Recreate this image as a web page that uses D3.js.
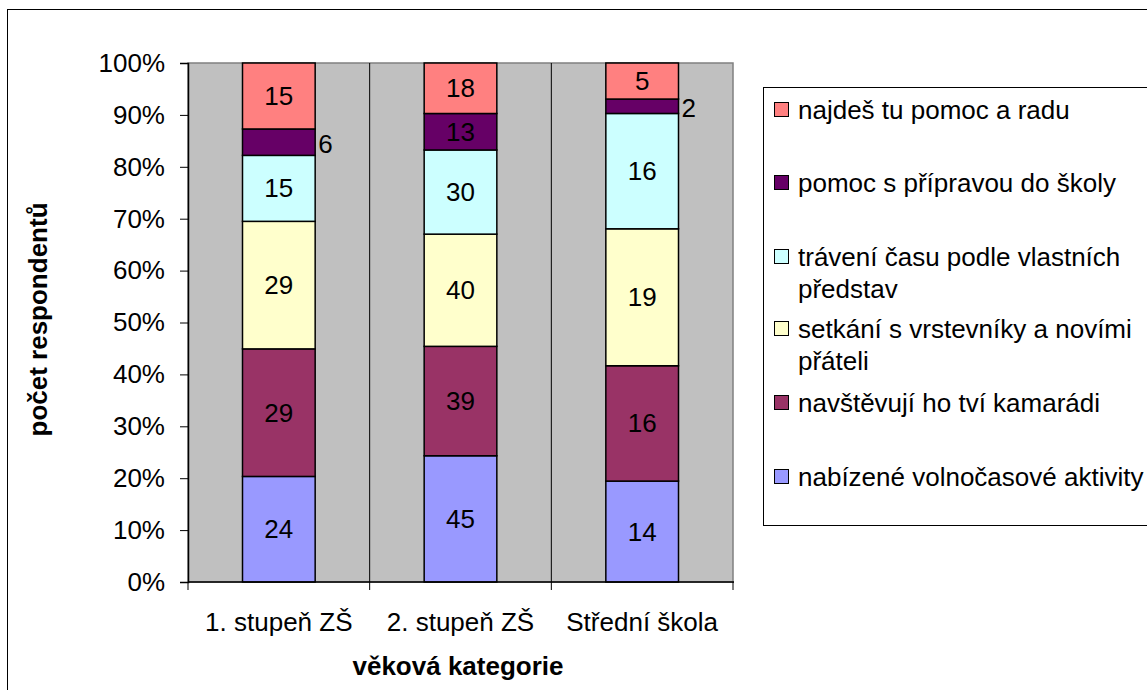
<!DOCTYPE html>
<html>
<head>
<meta charset="utf-8">
<script src="https://cdn.jsdelivr.net/npm/d3@7"></script>
<style>
  body { margin: 0; background: #fff; }
  svg { display: block; font-family: "Liberation Sans", Arial, sans-serif; }
</style>
</head>
<body>
<svg id="chart" width="1147" height="690"></svg>
<script>
// ── data ──
const categories = ['1. stupeň ZŠ', '2. stupeň ZŠ', 'Střední škola'];
const seriesNames = [
  'nabízené volnočasové aktivity',
  'navštěvují ho tví kamarádi',
  'setkání s vrstevníky a novími přáteli',
  'trávení času podle vlastních představ',
  'pomoc s přípravou do školy',
  'najdeš tu pomoc a radu'
];
const legendLines = [
  ['nabízené volnočasové aktivity'],
  ['navštěvují ho tví kamarádi'],
  ['setkání s vrstevníky a novími', 'přáteli'],
  ['trávení času podle vlastních', 'představ'],
  ['pomoc s přípravou do školy'],
  ['najdeš tu pomoc a radu']
];
const seriesValues = [
  [24, 45, 14],
  [29, 39, 16],
  [29, 40, 19],
  [15, 30, 16],
  [6, 13, 2],
  [15, 18, 5]
];
const colors = ['#9999FF', '#993366', '#FFFFCC', '#CCFFFF', '#660066', '#FF8080'];
const yTicks = [0, 0.1, 0.2, 0.3, 0.4, 0.5, 0.6, 0.7, 0.8, 0.9, 1];

const FONT = '"Liberation Sans", Arial, sans-serif';
const FS = 26;

// ── layout ──
const svg = d3.select('#chart');
const plot = { left: 188, right: 733, top: 63, bottom: 582 };

// chart border (runs off the right and bottom edges)
svg.append('rect').attr('x', 7.5).attr('y', 9.5).attr('width', 1160).attr('height', 700)
  .attr('fill', '#fff').attr('stroke', '#000').attr('stroke-width', 1);

const x = d3.scaleBand().domain(categories).range([plot.left, plot.right]);
const y = d3.scaleLinear().domain([0, 1]).range([plot.bottom, plot.top]);
const barW = x.bandwidth() * 0.4;

// plot background
svg.append('rect')
  .attr('x', plot.left).attr('y', plot.top)
  .attr('width', plot.right - plot.left).attr('height', plot.bottom - plot.top)
  .attr('fill', '#C0C0C0').attr('stroke', '#808080').attr('stroke-width', 1.5);

// category gridlines
categories.slice(1).forEach(c => {
  svg.append('line')
    .attr('x1', x(c)).attr('x2', x(c)).attr('y1', plot.top).attr('y2', plot.bottom)
    .attr('stroke', '#000').attr('stroke-width', 1);
});

// stacked data (100 %)
const totals = categories.map((c, j) => d3.sum(seriesValues, s => s[j]));
const stackRows = categories.map((c, j) => {
  const row = { cat: c };
  seriesValues.forEach((s, i) => { row[i] = s[j] / totals[j]; });
  return row;
});
const stacked = d3.stack().keys(seriesNames.map((d, i) => i))(stackRows);

stacked.forEach((layer, i) => {
  layer.forEach((seg, j) => {
    const cx = x(categories[j]) + x.bandwidth() / 2;
    svg.append('rect')
      .attr('x', cx - barW / 2).attr('y', y(seg[1]))
      .attr('width', barW).attr('height', y(seg[0]) - y(seg[1]))
      .attr('fill', colors[i]).attr('stroke', '#000').attr('stroke-width', 1.5);
  });
});

// value labels — thin segments get their label beside the bar
stacked.forEach((layer, i) => {
  layer.forEach((seg, j) => {
    const cx = x(categories[j]) + x.bandwidth() / 2;
    const v = seriesValues[i][j];
    const h = y(seg[0]) - y(seg[1]);
    const small = h < 30;
    svg.append('text')
      .attr('x', small ? cx + barW / 2 + 3 : cx)
      .attr('y', (y(seg[0]) + y(seg[1])) / 2 + (small ? 11 : 9))
      .attr('text-anchor', small ? 'start' : 'middle')
      .attr('font-size', FS).attr('fill', '#000')
      .text(v);
  });
});

// axes
const yAxis = d3.axisLeft(y).tickValues(yTicks).tickFormat(d3.format('.0%')).tickSize(8).tickPadding(15);
const gy = svg.append('g').attr('transform', `translate(${plot.left},0)`).call(yAxis);
gy.attr('font-family', FONT).attr('font-size', FS);
gy.select('.domain').attr('stroke', '#000').attr('stroke-width', 1.5);
gy.selectAll('.tick line').attr('stroke', '#000');
gy.selectAll('.tick text').attr('fill', '#000');

svg.append('line').attr('x1', plot.left).attr('x2', plot.right + 1)
  .attr('y1', plot.bottom).attr('y2', plot.bottom).attr('stroke', '#000').attr('stroke-width', 1.5);
categories.map(c => x(c)).concat([plot.right]).forEach(tx => {
  svg.append('line').attr('x1', tx).attr('x2', tx).attr('y1', plot.bottom).attr('y2', plot.bottom + 8)
    .attr('stroke', '#000').attr('stroke-width', 1);
});
categories.forEach(c => {
  svg.append('text')
    .attr('x', x(c) + x.bandwidth() / 2).attr('y', 631)
    .attr('text-anchor', 'middle').attr('font-size', FS).attr('fill', '#000')
    .text(c);
});

// axis titles
svg.append('text')
  .attr('x', 458).attr('y', 675)
  .attr('text-anchor', 'middle').attr('font-size', FS).attr('font-weight', 'bold')
  .text('věková kategorie');
svg.append('text')
  .attr('transform', `translate(47,${(plot.top + plot.bottom) / 2 - 3}) rotate(-90)`)
  .attr('text-anchor', 'middle').attr('font-size', FS).attr('font-weight', 'bold')
  .text('počet respondentů');

// legend (box runs off the right edge)
const lg = svg.append('g');
lg.append('rect').attr('x', 763.5).attr('y', 87.5).attr('width', 400).attr('height', 438)
  .attr('fill', '#fff').attr('stroke', '#000').attr('stroke-width', 1);
const legendY = [110, 183, 257, 329, 403, 477];
const order = [5, 4, 3, 2, 1, 0];
order.forEach((si, k) => {
  const ly = legendY[k];
  lg.append('rect').attr('x', 774.5).attr('y', ly - 7.5).attr('width', 14).attr('height', 14)
    .attr('fill', colors[si]).attr('stroke', '#000').attr('stroke-width', 1);
  legendLines[si].forEach((line, li) => {
    lg.append('text').attr('x', 798).attr('y', ly + 9 + li * 32)
      .attr('font-size', FS).attr('fill', '#000').text(line);
  });
});
</script>
</body>
</html>
